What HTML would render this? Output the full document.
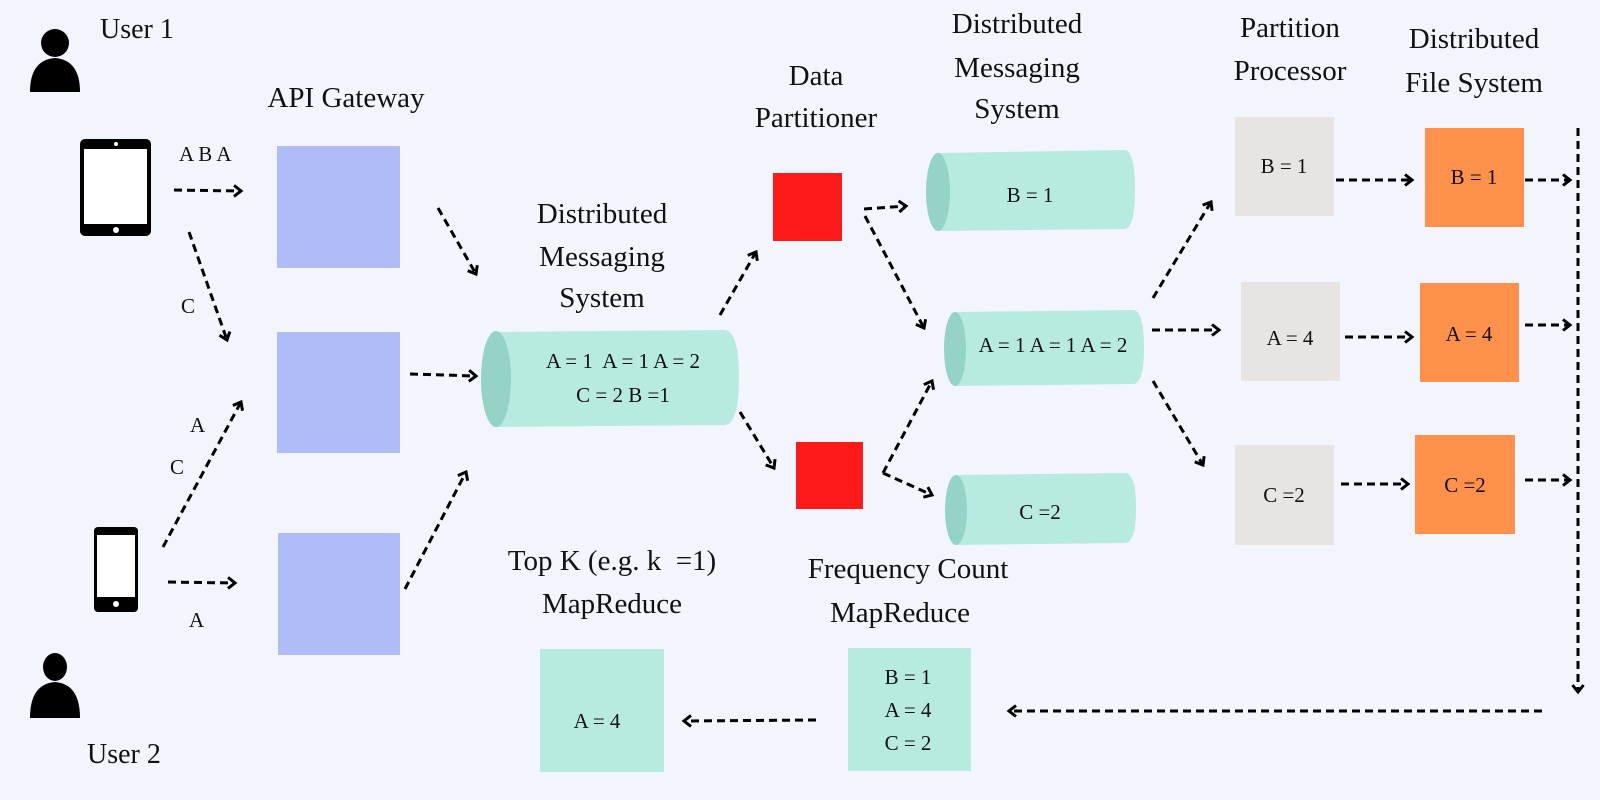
<!DOCTYPE html>
<html><head><meta charset="utf-8"><style>
html,body{margin:0;padding:0;background:#f2f5fe;}
svg{display:block;}
text{font-family:"Liberation Serif",serif;fill:#111;}
.l{font-size:29px;text-anchor:middle;}
.b{font-size:21px;text-anchor:middle;}
.s{font-size:21px;}
.a{stroke:#000;stroke-width:3;stroke-dasharray:8 5;fill:none;marker-end:url(#h);}
</style></head><body>
<svg width="1600" height="800" viewBox="0 0 1600 800" xmlns="http://www.w3.org/2000/svg">
<defs>
<marker id="h" markerWidth="14" markerHeight="14" refX="9" refY="7" orient="auto" markerUnits="userSpaceOnUse">
<path d="M2,1.5 L9,7 L2,12.5" stroke="#000" stroke-width="3" fill="none"/>
</marker>
</defs>
<rect width="1600" height="800" fill="#f2f5fe"/>

<!-- User 1 -->
<circle cx="55" cy="43" r="14" fill="#000"/>
<path d="M30,92 Q30,60 55,58 Q80,60 80,92 Z" fill="#000"/>
<text x="100" y="38" style="font-size:28px">User 1</text>
<!-- tablet -->
<rect x="80" y="139" width="71" height="97" rx="5" fill="#000"/>
<rect x="84" y="149" width="63" height="75" fill="#fff"/>
<circle cx="116" cy="144" r="2" fill="#fff"/>
<circle cx="116" cy="230" r="3" fill="#fff"/>
<!-- User 2 -->
<ellipse cx="55" cy="667" rx="12" ry="14" fill="#000"/>
<path d="M30,718 Q30,684 55,682 Q80,684 80,718 Z" fill="#000"/>
<text x="87" y="763" style="font-size:28px">User 2</text>
<!-- phone -->
<rect x="94" y="527" width="44" height="85" rx="4" fill="#000"/>
<rect x="97" y="535" width="38" height="62" fill="#fff"/>
<circle cx="116" cy="604" r="3" fill="#fff"/>

<text x="346" y="107" class="l">API Gateway</text>
<rect x="277" y="146" width="123" height="122" fill="#b0bcf5"/>
<rect x="277" y="332" width="123" height="121" fill="#b0bcf5"/>
<rect x="278" y="533" width="122" height="122" fill="#b0bcf5"/>

<text x="179" y="161" class="s">A B A</text>
<text x="181" y="313" class="s">C</text>
<text x="190" y="432" class="s">A</text>
<text x="170" y="474" class="s">C</text>
<text x="189" y="627" class="s">A</text>

<!-- left arrows -->
<path class="a" d="M174,190 L241,191"/>
<path class="a" d="M189,232 L227,340"/>
<path class="a" d="M163,547 L241,402"/>
<path class="a" d="M168,582 L235,583"/>
<path class="a" d="M438,208 L476,274"/>
<path class="a" d="M410,374 L476,376"/>
<path class="a" d="M405,589 L466,472"/>

<!-- main cylinder -->
<text x="602" y="223" class="l">Distributed</text>
<text x="602" y="266" class="l">Messaging</text>
<text x="602" y="307" class="l">System</text>
<path d="M496,332 L724,330 Q739,330 739,378 Q739,425 724,425 L496,427 Z" fill="#b7ebdf"/>
<ellipse cx="496" cy="379" rx="15" ry="48" fill="#94d3c6"/>
<text x="623" y="368" class="b">A = 1&#160; A = 1 A = 2</text>
<text x="623" y="402" class="b">C = 2 B =1</text>

<path class="a" d="M720,315 L756,252"/>
<path class="a" d="M740,412 L774,468"/>

<!-- partitioner -->
<text x="816" y="85" class="l">Data</text>
<text x="816" y="127" class="l">Partitioner</text>
<rect x="773" y="173" width="69" height="68" fill="#ff1a1a"/>
<rect x="796" y="442" width="67" height="67" fill="#ff1a1a"/>
<path class="a" d="M864,209 L906,206"/>
<path class="a" d="M865,216 L924,328"/>
<path class="a" d="M883,473 L932,381"/>
<path class="a" d="M883,473 L932,495"/>

<!-- right cylinders -->
<text x="1017" y="33" class="l">Distributed</text>
<text x="1017" y="77" class="l">Messaging</text>
<text x="1017" y="118" class="l">System</text>
<path d="M938,153 L1124,150 Q1135,150 1135,190 Q1135,229 1124,229 L938,231 Z" fill="#b7ebdf"/>
<ellipse cx="938" cy="192" rx="12" ry="39" fill="#94d3c6"/>
<text x="1030" y="202" class="b">B = 1</text>
<path d="M955,312 L1133,310 Q1144,310 1144,348 Q1144,384 1133,384 L955,386 Z" fill="#b7ebdf"/>
<ellipse cx="955" cy="349" rx="11" ry="37" fill="#94d3c6"/>
<text x="1053" y="352" class="b">A = 1 A = 1 A = 2</text>
<path d="M956,475 L1125,473 Q1136,473 1136,508 Q1136,543 1125,543 L956,545 Z" fill="#b7ebdf"/>
<ellipse cx="956" cy="510" rx="11" ry="35" fill="#94d3c6"/>
<text x="1040" y="519" class="b">C =2</text>

<path class="a" d="M1153,298 L1211,202"/>
<path class="a" d="M1152,330 L1219,330"/>
<path class="a" d="M1153,381 L1203,465"/>

<!-- partition processor -->
<text x="1290" y="37" class="l">Partition</text>
<text x="1290" y="80" class="l">Processor</text>
<rect x="1235" y="117" width="99" height="99" fill="#e8e4e2"/>
<rect x="1241" y="282" width="99" height="99" fill="#e8e4e2"/>
<rect x="1235" y="445" width="99" height="100" fill="#e8e4e2"/>
<text x="1284" y="173" class="b">B = 1</text>
<text x="1290" y="345" class="b">A = 4</text>
<text x="1284" y="502" class="b">C =2</text>

<path class="a" d="M1336,180 L1412,180"/>
<path class="a" d="M1345,337 L1412,337"/>
<path class="a" d="M1341,484 L1408,484"/>

<!-- DFS -->
<text x="1474" y="48" class="l">Distributed</text>
<text x="1474" y="92" class="l">File System</text>
<rect x="1425" y="128" width="99" height="99" fill="#ff914d"/>
<rect x="1420" y="283" width="99" height="99" fill="#ff914d"/>
<rect x="1415" y="435" width="100" height="99" fill="#ff914d"/>
<text x="1474" y="184" class="b">B = 1</text>
<text x="1469" y="341" class="b">A = 4</text>
<text x="1465" y="492" class="b">C =2</text>

<path class="a" d="M1525,180 L1570,180"/>
<path class="a" d="M1525,325 L1570,325"/>
<path class="a" d="M1525,480 L1570,480"/>

<path class="a" d="M1578,128 L1578,692"/>
<path class="a" d="M1542,711 L1009,711"/>

<!-- MapReduce -->
<text x="908" y="578" class="l">Frequency Count</text>
<text x="900" y="622" class="l">MapReduce</text>
<rect x="848" y="648" width="123" height="123" fill="#b7ebdf"/>
<text x="908" y="684" class="b">B = 1</text>
<text x="908" y="717" class="b">A = 4</text>
<text x="908" y="750" class="b">C = 2</text>

<text x="612" y="570" class="l">Top K (e.g. k&#160; =1)</text>
<text x="612" y="613" class="l">MapReduce</text>
<rect x="540" y="649" width="124" height="123" fill="#b7ebdf"/>
<text x="597" y="728" class="b">A = 4</text>

<path class="a" d="M816,720 L684,721"/>
</svg>
</body></html>
